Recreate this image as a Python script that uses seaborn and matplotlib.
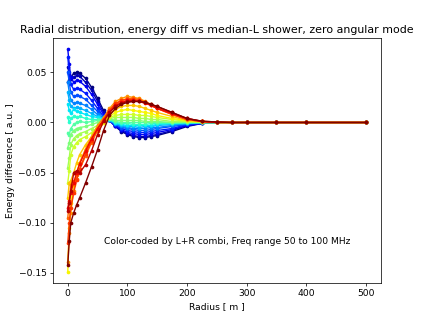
import numpy as np
import pandas as pd
import matplotlib
matplotlib.use("Agg")
import matplotlib.pyplot as plt
import seaborn as sns

# ── Data ──────────────────────────────────────────────────────────────────────
radius = [0, 2.5, 5, 10, 15, 20, 30, 40, 50, 60, 70, 80, 90, 100, 110, 120,
          130, 140, 150, 175, 200, 225, 250, 275, 300, 350, 400, 500]

# colour value (L+R combi, normalised) of each curve
combi = [0.00, 0.05, 0.10, 0.15, 0.20, 0.25, 0.30, 0.35, 0.40, 0.45, 0.50,
         0.55, 0.60, 0.65, 0.70, 0.75, 0.80, 0.85, 0.90, 0.95, 1.00]

curves = [
    [0.040, 0.042, 0.045, 0.049, 0.050, 0.049, 0.044, 0.035, 0.024, 0.012, 0.003, -0.004, -0.009, -0.012,
     -0.014, -0.015, -0.015, -0.014, -0.013, -0.009, -0.004, -0.001, 0.000, 0.0, 0.0, 0.0, 0.0, 0.0],
    [0.055, 0.048, 0.043, 0.045, 0.047, 0.046, 0.040, 0.032, 0.021, 0.010, 0.002, -0.004, -0.008, -0.011,
     -0.013, -0.014, -0.014, -0.013, -0.012, -0.008, -0.003, -0.001, 0.000, 0.0, 0.0, 0.0, 0.0, 0.0],
    [0.073, 0.058, 0.045, 0.040, 0.042, 0.041, 0.036, 0.028, 0.018, 0.008, 0.002, -0.004, -0.007, -0.010,
     -0.011, -0.012, -0.012, -0.011, -0.010, -0.007, -0.003, -0.001, 0.000, 0.0, 0.0, 0.0, 0.0, 0.0],
    [0.065, 0.050, 0.038, 0.033, 0.034, 0.033, 0.029, 0.022, 0.014, 0.006, 0.002, -0.003, -0.006, -0.008,
     -0.009, -0.010, -0.010, -0.009, -0.008, -0.006, -0.002, -0.001, 0.000, 0.0, 0.0, 0.0, 0.0, 0.0],
    [0.050, 0.040, 0.030, 0.026, 0.027, 0.026, 0.023, 0.017, 0.011, 0.006, 0.002, -0.002, -0.005, -0.006,
     -0.007, -0.008, -0.008, -0.007, -0.006, -0.004, -0.002, 0.000, 0.000, 0.0, 0.0, 0.0, 0.0, 0.0],
    [0.040, 0.030, 0.022, 0.019, 0.020, 0.019, 0.017, 0.013, 0.008, 0.005, 0.002, -0.002, -0.004, -0.005,
     -0.006, -0.006, -0.006, -0.005, -0.005, -0.003, -0.001, 0.000, 0.000, 0.0, 0.0, 0.0, 0.0, 0.0],
    [0.030, 0.022, 0.016, 0.014, 0.015, 0.014, 0.012, 0.009, 0.006, 0.004, 0.002, -0.001, -0.003, -0.004,
     -0.004, -0.005, -0.004, -0.004, -0.003, -0.002, -0.001, 0.000, 0.000, 0.0, 0.0, 0.0, 0.0, 0.0],
    [0.018, 0.012, 0.009, 0.013, 0.011, 0.010, 0.008, 0.006, 0.005, 0.004, 0.003, -0.001, -0.002, -0.003,
     -0.003, -0.003, -0.003, -0.003, -0.002, -0.001, -0.001, 0.000, 0.000, 0.0, 0.0, 0.0, 0.0, 0.0],
    [0.005, 0.000, 0.004, 0.006, 0.005, 0.006, 0.004, 0.003, 0.003, 0.003, 0.003, 0.000, -0.001, -0.001,
     -0.002, -0.002, -0.002, -0.001, -0.001, -0.001, 0.000, 0.000, 0.000, 0.0, 0.0, 0.0, 0.0, 0.0],
    [-0.010, -0.012, -0.006, -0.002, 0.000, 0.001, 0.000, 0.001, 0.002, 0.003, 0.003, 0.001, 0.000, 0.000,
     0.000, 0.000, 0.000, 0.000, 0.000, 0.000, 0.000, 0.000, 0.000, 0.0, 0.0, 0.0, 0.0, 0.0],
    [-0.025, -0.020, -0.012, -0.008, -0.006, -0.005, -0.004, -0.002, 0.000, 0.002, 0.004, 0.002, 0.002, 0.002,
     0.002, 0.002, 0.001, 0.001, 0.001, 0.000, 0.000, 0.000, 0.000, 0.0, 0.0, 0.0, 0.0, 0.0],
    [-0.045, -0.035, -0.022, -0.016, -0.013, -0.011, -0.009, -0.006, -0.003, 0.001, 0.004, 0.005, 0.005, 0.005,
     0.005, 0.004, 0.004, 0.003, 0.003, 0.001, 0.001, 0.000, 0.000, 0.0, 0.0, 0.0, 0.0, 0.0],
    [-0.060, -0.048, -0.032, -0.024, -0.020, -0.017, -0.014, -0.010, -0.005, 0.000, 0.005, 0.007, 0.008, 0.008,
     0.008, 0.007, 0.007, 0.006, 0.005, 0.003, 0.001, 0.000, 0.000, 0.0, 0.0, 0.0, 0.0, 0.0],
    [-0.149, -0.105, -0.080, -0.062, -0.050, -0.040, -0.028, -0.017, -0.008, -0.001, 0.006, 0.010, 0.012, 0.013,
     0.012, 0.011, 0.010, 0.009, 0.007, 0.004, 0.002, 0.001, 0.000, 0.0, 0.0, 0.0, 0.0, 0.0],
    [-0.075, -0.060, -0.058, -0.050, -0.040, -0.032, -0.022, -0.014, -0.006, 0.001, 0.008, 0.013, 0.016, 0.017,
     0.017, 0.016, 0.014, 0.012, 0.010, 0.006, 0.002, 0.001, 0.000, 0.0, 0.0, 0.0, 0.0, 0.0],
    [-0.139, -0.110, -0.090, -0.068, -0.052, -0.040, -0.026, -0.014, -0.003, 0.005, 0.014, 0.021, 0.024, 0.026,
     0.025, 0.024, 0.021, 0.018, 0.015, 0.009, 0.003, 0.001, 0.000, 0.0, 0.0, 0.0, 0.0, 0.0],
    [-0.095, -0.080, -0.062, -0.058, -0.056, -0.047, -0.033, -0.020, -0.008, 0.002, 0.012, 0.018, 0.022, 0.024,
     0.024, 0.023, 0.020, 0.017, 0.014, 0.008, 0.003, 0.001, 0.000, 0.0, 0.0, 0.0, 0.0, 0.0],
    [-0.120, -0.100, -0.085, -0.070, -0.057, -0.046, -0.031, -0.018, -0.006, 0.003, 0.012, 0.019, 0.022, 0.023,
     0.023, 0.022, 0.020, 0.017, 0.014, 0.008, 0.003, 0.001, 0.000, 0.0, 0.0, 0.0, 0.0, 0.0],
    [-0.085, -0.078, -0.070, -0.060, -0.050, -0.041, -0.028, -0.016, -0.006, 0.002, 0.010, 0.017, 0.020, 0.022,
     0.022, 0.021, 0.019, 0.017, 0.014, 0.009, 0.004, 0.001, 0.000, 0.0, 0.0, 0.0, 0.0, 0.0],
    [-0.088, -0.080, -0.068, -0.050, -0.048, -0.050, -0.042, -0.028, -0.012, 0.001, 0.010, 0.016, 0.019, 0.021,
     0.021, 0.021, 0.020, 0.018, 0.016, 0.010, 0.004, 0.0013, 0.0005, 0.0, 0.0, 0.0, 0.0, 0.0],
    [-0.142, -0.118, -0.100, -0.090, -0.082, -0.075, -0.060, -0.044, -0.027, -0.008, 0.007, 0.014, 0.018, 0.020,
     0.021, 0.021, 0.020, 0.018, 0.016, 0.010, 0.004, 0.0013, 0.0005, 0.0, 0.0, 0.0, 0.0, 0.0],
]

title = "Radial distribution, energy diff vs median-L shower, zero angular mode"
note = "Color-coded by L+R combi, Freq range 50 to 100 MHz"

# ── Long-form table ───────────────────────────────────────────────────────────
rows = []
for c, vals in zip(combi, curves):
    for r, v in zip(radius, vals):
        rows.append({"radius": r, "diff": v, "combi": c})
df = pd.DataFrame(rows)

fig, ax = plt.subplots(figsize=(423 / 66, 318 / 66), dpi=66)
sns.lineplot(data=df, x="radius", y="diff", hue="combi",
             palette=matplotlib.colormaps["jet"], hue_norm=(0, 1),
             units="combi", estimator=None, sort=False,
             marker="o", markersize=4, markeredgewidth=0, linewidth=1.5,
             legend=False, ax=ax)

ax.text(60, -0.119, note, va="center", fontsize=10)
ax.set_title(title)
ax.set_xlabel("Radius [ m ]")
ax.set_ylabel("Energy difference [ a.u. ]")
ax.set_xticks([0, 100, 200, 300, 400, 500])
ax.set_yticks([-0.15, -0.10, -0.05, 0.00, 0.05])

fig.savefig("out.png", dpi=66)
